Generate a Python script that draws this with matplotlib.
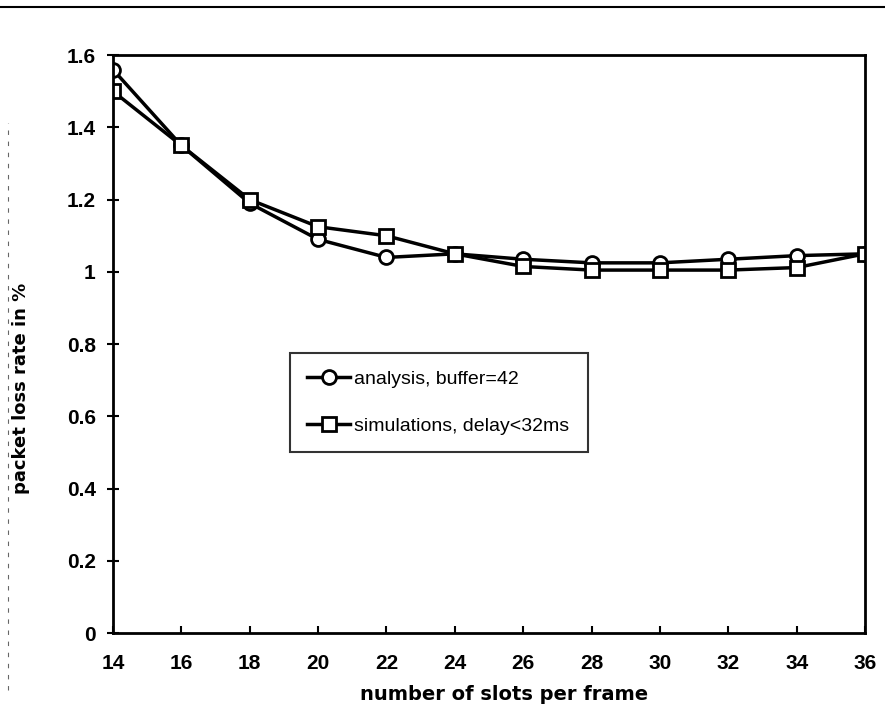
import numpy as np
import matplotlib.pyplot as plt
from matplotlib.lines import Line2D

slots = [14, 16, 18, 20, 22, 24, 26, 28, 30, 32, 34, 36]
analysis = [1.56, 1.35, 1.19, 1.09, 1.04, 1.05, 1.035, 1.025, 1.025, 1.035, 1.045, 1.05]
simulation = [1.50, 1.35, 1.20, 1.125, 1.10, 1.05, 1.015, 1.005, 1.005, 1.005, 1.012, 1.05]

plt.rcParams['font.family'] = ['Liberation Sans', 'DejaVu Sans']

fig = plt.figure(figsize=(8.85, 7.26), dpi=100)
ax = fig.add_axes([0.1277, 0.128, 0.8497, 0.796])

ax.plot(slots, analysis, 'k-', marker='o', ms=10, mfc='white', mec='black', mew=2, lw=2.5,
        label='analysis, buffer=42')
ax.plot(slots, simulation, 'k-', marker='s', ms=10, mfc='white', mec='black', mew=2, lw=2.5,
        label='simulations, delay<32ms')

ax.set_xlim(14, 36)
ax.set_ylim(0, 1.6)
ax.set_xticks(slots)
ax.set_yticks([0, 0.2, 0.4, 0.6, 0.8, 1.0, 1.2, 1.4, 1.6])
ax.set_yticklabels(['0', '0.2', '0.4', '0.6', '0.8', '1', '1.2', '1.4', '1.6'])
ax.tick_params(axis='y', direction='inout', length=9, width=1.5, labelsize=15, pad=8)
ax.tick_params(axis='x', direction='in', length=5, width=1.5, labelsize=15, pad=15)
for lab in ax.get_xticklabels() + ax.get_yticklabels():
    lab.set_fontweight('bold')
for s in ax.spines.values():
    s.set_linewidth(2)
ax.set_xlabel('number of slots per frame', fontsize=14, fontweight='bold', family='DejaVu Sans')
ax.set_ylabel('packet loss rate in %', fontsize=13, fontweight='bold', family='DejaVu Sans')
ax.xaxis.set_label_coords(0.52, -0.09)
ax.yaxis.set_label_coords(-0.11, 0.424)

leg = ax.legend(loc='lower left', bbox_to_anchor=(0.222, 0.296, 0.422, 0.19), mode='expand',
                fontsize=14, frameon=True, fancybox=False, edgecolor='black',
                handlelength=2.2, handletextpad=0.2, labelspacing=1.5, borderpad=0.9)
leg.get_frame().set_linewidth(1.5)

# scan border lines
fig.add_artist(Line2D([0, 1], [0.99, 0.99], color='black', lw=1.5, transform=fig.transFigure))
fig.add_artist(Line2D([0.009, 0.009], [0.05, 0.83], color='black', lw=0.8, ls=(0, (4, 6)),
                      alpha=0.6, transform=fig.transFigure))

plt.savefig('out.png', dpi=100)
